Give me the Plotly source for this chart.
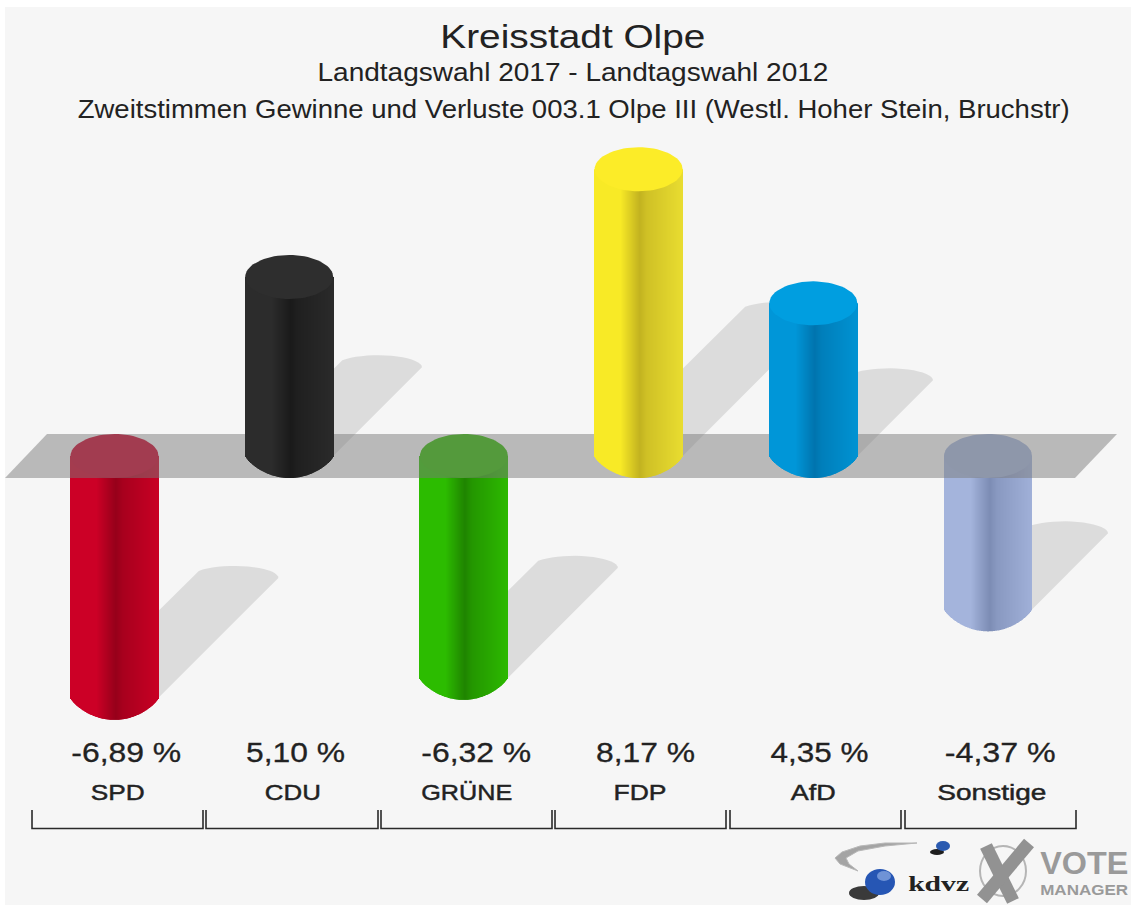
import json
import math
import plotly.graph_objects as go

# ---- data ----
parties = ["SPD", "CDU", "GRÜNE", "FDP", "AfD", "Sonstige"]
changes = [-6.89, 5.10, -6.32, 8.17, 4.35, -4.37]
value_labels = ["-6,89 %", "5,10 %", "-6,32 %", "8,17 %", "4,35 %", "-4,37 %"]
title_lines = ["Kreisstadt Olpe", "Landtagswahl 2017 - Landtagswahl 2012",
               "Zweitstimmen Gewinne und Verluste 003.1 Olpe III (Westl. Hoher Stein, Bruchstr)"]

# ---- styles ----
W, H = 1131, 905
X_UNIT, Y_UNIT = 174.7, 35.1      # pixels per category / per percentage point
X0_PX, Y0_PX = 114.5, 456.0
HALF_W, CAP_RY = 44.0, 22.0
cap_colors = ["#c80028", "#2e2e2e", "#2fb800", "#fcec28", "#009ee0", "#a2b2d8"]
left_colors = ["#cc0026", "#2c2c2c", "#2cbc00", "#f8ea26", "#0096d8", "#a4b4dc"]
dark_colors = ["#96001a", "#1a1a1a", "#1f8400", "#c2b220", "#0074ae", "#7c8cb4"]
right_colors = ["#c80024", "#2a2a2a", "#2cb800", "#e8dc30", "#0092d2", "#a0b0d8"]
value_px = [126.5, 295.5, 476, 645.5, 819.5, 1000.5]
label_px = [117, 292.5, 466.5, 640, 813.5, 991.5]
bracket_px = [(32, 203), (206, 378), (381, 552), (555, 726), (730, 901), (905, 1076)]
title_widths = [265, 511, 992]
value_widths = [110, 99, 110, 99, 98, 111]
label_widths = [54, 56, 91, 53, 45, 109]
BG = "#f6f6f6"
TEXT = "#222222"
FONT = "Liberation Sans"


def hex2rgb(c):
    return [int(c[i:i + 2], 16) for i in (1, 3, 5)]


def mix(a, b, t):
    ra, rb = hex2rgb(a), hex2rgb(b)
    return "rgb(%d,%d,%d)" % tuple(round(x + (y - x) * t) for x, y in zip(ra, rb))


def strip_color(t, l, d, r):
    if t < 0.30:
        return mix(l, l, 0)
    if t < 0.52:
        return mix(l, d, (t - 0.30) / 0.22)
    if t < 0.60:
        return mix(d, r, (t - 0.52) / 0.08 * 0.35)
    return mix(d, r, 0.35 + (t - 0.60) / 0.40 * 0.65)


def xd(px):
    return (px - X0_PX) / X_UNIT


def yd(px):
    return (Y0_PX - px) / Y_UNIT


def xp(px):
    return px / W


def yp(px):
    return 1 - px / H


def ellipse(cx, cy):
    pts = [2 * math.pi * k / 72 for k in range(73)]
    return ([cx + HALF_W / X_UNIT * math.cos(a) for a in pts],
            [cy + CAP_RY / Y_UNIT * math.sin(a) for a in pts])


fig = go.Figure()
STRIP = 1.0
n = int(2 * HALF_W / STRIP)


def add_bar(i, v, axes):
    xs, bases, heights, widths, colors = [], [], [], [], []
    for k in range(n):
        off = (-HALF_W + STRIP * (k + 0.5))
        u = off / HALF_W
        e = CAP_RY * max(0, 1 - u * u) ** 0.8 / Y_UNIT
        lo = min(v, 0) - e
        hi = max(v, 0)
        xs.append(i + off / X_UNIT)
        bases.append(lo)
        heights.append(hi - lo)
        widths.append(STRIP / X_UNIT)
        colors.append(strip_color((k + 0.5) / n, left_colors[i], dark_colors[i], right_colors[i]))
    fig.add_trace(go.Bar(x=xs, y=heights, base=bases, width=widths, orientation="v",
                         marker=dict(color=colors, line=dict(width=0)),
                         hoverinfo="skip", showlegend=False, name=parties[i],
                         xaxis=axes[0], yaxis=axes[1]))
    ex, ey = ellipse(i, max(v, 0))
    fig.add_trace(go.Scatter(x=ex, y=ey, mode="lines", fill="toself", fillcolor=cap_colors[i],
                             line=dict(width=0), hoverinfo="skip", showlegend=False,
                             xaxis=axes[0], yaxis=axes[1]))


# negative bars sit under the translucent plane
for i, v in enumerate(changes):
    if v < 0:
        add_bar(i, v, ("x", "y"))

fig.add_trace(go.Scatter(
    x=[xd(5), xd(1075), xd(1117), xd(47), xd(5)],
    y=[yd(478), yd(478), yd(434), yd(434), yd(478)],
    mode="lines", fill="toself", fillcolor="rgba(122,122,122,0.49)", line=dict(width=0),
    hoverinfo="skip", showlegend=False, xaxis="x", yaxis="y"))

# positive bars stand on top of the plane
for i, v in enumerate(changes):
    if v > 0:
        add_bar(i, v, ("x2", "y2"))

shapes = []
# background panel
shapes.append(dict(type="rect", xref="paper", yref="paper", x0=xp(5), x1=1, y0=0, y1=yp(7),
                   fillcolor=BG, line=dict(width=0), layer="below"))

# cast shadows
SHADOW_RATE = 17.4
for i, v in enumerate(changes):
    D = SHADOW_RATE * abs(v)
    xr = X0_PX + i * X_UNIT + HALF_W
    yb = Y0_PX - min(v, 0) * Y_UNIT
    pts = [(xr - 2 * HALF_W, yb), (xr, yb), (xr + D, yb - D)]
    for k in range(1, 19):
        a = 0.8 * math.pi * k / 18
        pts.append((xr + D - HALF_W + HALF_W * math.cos(a), yb - D - 12 * math.sin(a)))
    path = "M " + " L ".join(f"{xd(a):.4f},{yd(b):.4f}" for a, b in pts) + " Z"
    shapes.append(dict(type="path", path=path, xref="x", yref="y", fillcolor="#dcdcdc",
                       line=dict(width=0), layer="below"))

# brackets
for a, b in bracket_px:
    path = f"M {xd(a):.4f},{yd(810):.4f} L {xd(a):.4f},{yd(828.5):.4f} L {xd(b):.4f},{yd(828.5):.4f} L {xd(b):.4f},{yd(810):.4f}"
    shapes.append(dict(type="path", path=path, xref="x", yref="y",
                       line=dict(color="#2a2a2a", width=1.6), layer="above"))


def logo_path(pts, **kw):
    path = "M " + " L ".join(f"{xp(a):.5f},{yp(b):.5f}" for a, b in pts)
    return dict(type="path", path=path, xref="paper", yref="paper", layer="above", **kw)


def logo_ell(cx, cy, rx, ry, **kw):
    return dict(type="circle", xref="paper", yref="paper", layer="above",
                x0=xp(cx - rx), x1=xp(cx + rx), y0=yp(cy + ry), y1=yp(cy - ry), **kw)


# kdvz swoosh and spheres
shapes.append(logo_path([(917, 843), (885, 843), (860, 846), (842, 852), (835, 858), (840, 864), (858, 871),
                         (849, 864), (846, 858), (858, 851), (885, 846), (917, 843)],
                        fillcolor="#a4a4a4", line=dict(color="#b8b8b8", width=1)))
shapes.append(logo_ell(937, 852, 7, 3, fillcolor="#1e1e1e", line=dict(width=0)))
shapes.append(logo_ell(943, 846, 7, 5, fillcolor="#2a5ab0", line=dict(width=0)))
shapes.append(logo_ell(864, 893, 15, 7, fillcolor="#3a3a3a", line=dict(width=0)))
shapes.append(logo_ell(880, 882, 15, 13, fillcolor="#2656b4", line=dict(width=0)))
shapes.append(logo_ell(884, 876, 7, 5, fillcolor="#6f93d6", line=dict(width=0)))
# voting cross
shapes.append(logo_ell(1003, 871, 23, 25, fillcolor="rgba(0,0,0,0)", line=dict(color="#b5b5b5", width=2)))
shapes.append(logo_path([(986, 846), (1013, 901)], line=dict(color="#929292", width=13)))
shapes.append(logo_path([(1029, 843), (982, 899)], line=dict(color="#929292", width=13)))

ann = []
lengths = []
strokes = []
for txt, y, size, w_ in zip(title_lines, [36, 72, 109], [33, 25, 25], title_widths):
    ann.append(dict(text=txt, x=xp(573), y=yp(y), xref="paper", yref="paper", showarrow=False,
                    xanchor="center", yanchor="middle", font=dict(family=FONT, size=size, color=TEXT)))
    lengths.append(w_)
    strokes.append(0)
for txt, px, w_ in zip(value_labels, value_px, value_widths):
    ann.append(dict(text=txt, x=xp(px), y=yp(752), xref="paper", yref="paper", showarrow=False,
                    xanchor="center", yanchor="middle", font=dict(family=FONT, size=28, color=TEXT)))
    lengths.append(w_)
    strokes.append(0.3)
for txt, px, w_ in zip(parties, label_px, label_widths):
    ann.append(dict(text=txt, x=xp(px), y=yp(792), xref="paper", yref="paper", showarrow=False,
                    xanchor="center", yanchor="middle", font=dict(family=FONT, size=22, color=TEXT)))
    lengths.append(w_)
    strokes.append(0.45)
ann.append(dict(text="<b>kdvz</b>", x=xp(938), y=yp(883), xref="paper", yref="paper", showarrow=False,
                font=dict(family="Liberation Serif", size=22, color="#222"), xanchor="center", yanchor="middle"))
lengths.append(61)
strokes.append(0)
ann.append(dict(text="<b>VOTE</b>", x=xp(1084), y=yp(863), xref="paper", yref="paper", showarrow=False,
                font=dict(family=FONT, size=31, color="#9a9a9a"), xanchor="center", yanchor="middle"))
lengths.append(88)
strokes.append(0)
ann.append(dict(text="<b>MANAGER</b>", x=xp(1084), y=yp(890), xref="paper", yref="paper", showarrow=False,
                font=dict(family=FONT, size=14, color="#9a9a9a"), xanchor="center", yanchor="middle"))
lengths.append(88)
strokes.append(0)

xr_ = [xd(0), xd(W)]
yr_ = [yd(H), yd(0)]
fig.update_layout(
    width=W, height=H, margin=dict(l=0, r=0, t=0, b=0), paper_bgcolor="#ffffff", plot_bgcolor="rgba(0,0,0,0)",
    barmode="overlay", showlegend=False, shapes=shapes, annotations=ann,
    xaxis=dict(range=xr_, visible=False, fixedrange=True),
    yaxis=dict(range=yr_, visible=False, fixedrange=True),
    xaxis2=dict(range=xr_, visible=False, overlaying="x", fixedrange=True),
    yaxis2=dict(range=yr_, visible=False, overlaying="y", fixedrange=True),
)

# the reference's lettering is stretched sideways: fit each real text to its measured width
js = """
document.body.style.margin='0';document.body.style.overflow='hidden';
(function(){
  var L=%s, S=%s;
  function fit(){
    document.querySelectorAll('.annotation-text').forEach(function(t,i){
      if(L[i]){t.setAttribute('textLength',L[i]);t.setAttribute('lengthAdjust','spacingAndGlyphs');}
      if(S[i]){t.style.stroke='%s';t.style.strokeWidth=S[i]+'px';}
    });
  }
  fit();setTimeout(fit,50);setTimeout(fit,300);
})();
""" % (json.dumps(lengths), json.dumps(strokes), TEXT)
fig.write_html("out.html", post_script=js, config={"displayModeBar": False})
